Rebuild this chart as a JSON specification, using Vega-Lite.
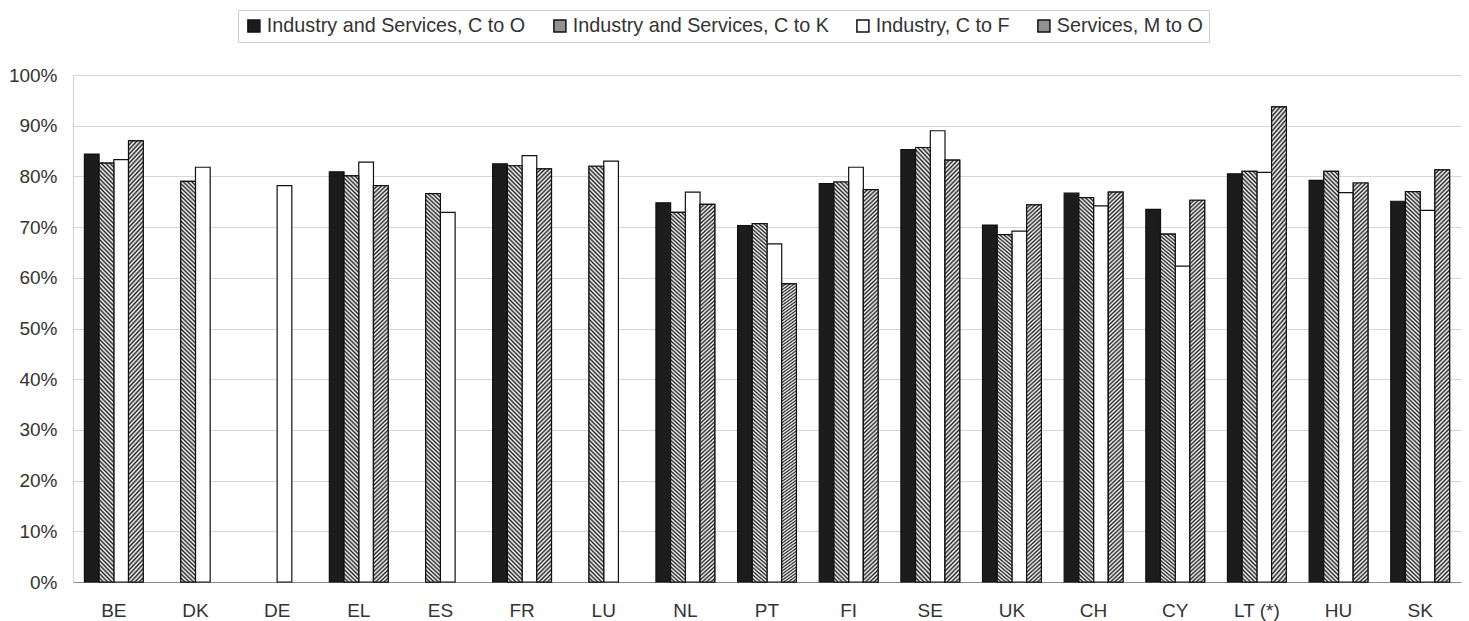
{
  "$schema": "https://vega.github.io/schema/vega-lite/v6.json",
  "width": 1388,
  "height": 507,
  "autosize": {"type": "none"},
  "padding": {"left": 73, "top": 75, "right": 8, "bottom": 39},
  "background": "white",
  "params": [
    {"name": "legendStops", "value": [
      {"offset": 0, "color": "#fff"}, {"offset": 0.1, "color": "#222"}, {"offset": 0.2, "color": "#fff"}, {"offset": 0.3, "color": "#222"}, {"offset": 0.4, "color": "#fff"}, {"offset": 0.5, "color": "#222"}, {"offset": 0.6, "color": "#fff"}, {"offset": 0.7, "color": "#222"}, {"offset": 0.8, "color": "#fff"}, {"offset": 0.9, "color": "#222"}, {"offset": 1, "color": "#fff"}
    ]},
    {"name": "hatchStops", "value": [
      {"offset":0,"color":"#222"},{"offset":0.005,"color":"#fff"},{"offset":0.01,"color":"#222"},{"offset":0.015,"color":"#fff"},{"offset":0.02,"color":"#222"},{"offset":0.025,"color":"#fff"},{"offset":0.03,"color":"#222"},{"offset":0.035,"color":"#fff"},{"offset":0.04,"color":"#222"},{"offset":0.045,"color":"#fff"},
      {"offset":0.05,"color":"#222"},{"offset":0.055,"color":"#fff"},{"offset":0.06,"color":"#222"},{"offset":0.065,"color":"#fff"},{"offset":0.07,"color":"#222"},{"offset":0.075,"color":"#fff"},{"offset":0.08,"color":"#222"},{"offset":0.085,"color":"#fff"},{"offset":0.09,"color":"#222"},{"offset":0.095,"color":"#fff"},
      {"offset":0.1,"color":"#222"},{"offset":0.105,"color":"#fff"},{"offset":0.11,"color":"#222"},{"offset":0.115,"color":"#fff"},{"offset":0.12,"color":"#222"},{"offset":0.125,"color":"#fff"},{"offset":0.13,"color":"#222"},{"offset":0.135,"color":"#fff"},{"offset":0.14,"color":"#222"},{"offset":0.145,"color":"#fff"},
      {"offset":0.15,"color":"#222"},{"offset":0.155,"color":"#fff"},{"offset":0.16,"color":"#222"},{"offset":0.165,"color":"#fff"},{"offset":0.17,"color":"#222"},{"offset":0.175,"color":"#fff"},{"offset":0.18,"color":"#222"},{"offset":0.185,"color":"#fff"},{"offset":0.19,"color":"#222"},{"offset":0.195,"color":"#fff"},
      {"offset":0.2,"color":"#222"},{"offset":0.205,"color":"#fff"},{"offset":0.21,"color":"#222"},{"offset":0.215,"color":"#fff"},{"offset":0.22,"color":"#222"},{"offset":0.225,"color":"#fff"},{"offset":0.23,"color":"#222"},{"offset":0.235,"color":"#fff"},{"offset":0.24,"color":"#222"},{"offset":0.245,"color":"#fff"},
      {"offset":0.25,"color":"#222"},{"offset":0.255,"color":"#fff"},{"offset":0.26,"color":"#222"},{"offset":0.265,"color":"#fff"},{"offset":0.27,"color":"#222"},{"offset":0.275,"color":"#fff"},{"offset":0.28,"color":"#222"},{"offset":0.285,"color":"#fff"},{"offset":0.29,"color":"#222"},{"offset":0.295,"color":"#fff"},
      {"offset":0.3,"color":"#222"},{"offset":0.305,"color":"#fff"},{"offset":0.31,"color":"#222"},{"offset":0.315,"color":"#fff"},{"offset":0.32,"color":"#222"},{"offset":0.325,"color":"#fff"},{"offset":0.33,"color":"#222"},{"offset":0.335,"color":"#fff"},{"offset":0.34,"color":"#222"},{"offset":0.345,"color":"#fff"},
      {"offset":0.35,"color":"#222"},{"offset":0.355,"color":"#fff"},{"offset":0.36,"color":"#222"},{"offset":0.365,"color":"#fff"},{"offset":0.37,"color":"#222"},{"offset":0.375,"color":"#fff"},{"offset":0.38,"color":"#222"},{"offset":0.385,"color":"#fff"},{"offset":0.39,"color":"#222"},{"offset":0.395,"color":"#fff"},
      {"offset":0.4,"color":"#222"},{"offset":0.405,"color":"#fff"},{"offset":0.41,"color":"#222"},{"offset":0.415,"color":"#fff"},{"offset":0.42,"color":"#222"},{"offset":0.425,"color":"#fff"},{"offset":0.43,"color":"#222"},{"offset":0.435,"color":"#fff"},{"offset":0.44,"color":"#222"},{"offset":0.445,"color":"#fff"},
      {"offset":0.45,"color":"#222"},{"offset":0.455,"color":"#fff"},{"offset":0.46,"color":"#222"},{"offset":0.465,"color":"#fff"},{"offset":0.47,"color":"#222"},{"offset":0.475,"color":"#fff"},{"offset":0.48,"color":"#222"},{"offset":0.485,"color":"#fff"},{"offset":0.49,"color":"#222"},{"offset":0.495,"color":"#fff"},
      {"offset":0.5,"color":"#222"},{"offset":0.505,"color":"#fff"},{"offset":0.51,"color":"#222"},{"offset":0.515,"color":"#fff"},{"offset":0.52,"color":"#222"},{"offset":0.525,"color":"#fff"},{"offset":0.53,"color":"#222"},{"offset":0.535,"color":"#fff"},{"offset":0.54,"color":"#222"},{"offset":0.545,"color":"#fff"},
      {"offset":0.55,"color":"#222"},{"offset":0.555,"color":"#fff"},{"offset":0.56,"color":"#222"},{"offset":0.565,"color":"#fff"},{"offset":0.57,"color":"#222"},{"offset":0.575,"color":"#fff"},{"offset":0.58,"color":"#222"},{"offset":0.585,"color":"#fff"},{"offset":0.59,"color":"#222"},{"offset":0.595,"color":"#fff"},
      {"offset":0.6,"color":"#222"},{"offset":0.605,"color":"#fff"},{"offset":0.61,"color":"#222"},{"offset":0.615,"color":"#fff"},{"offset":0.62,"color":"#222"},{"offset":0.625,"color":"#fff"},{"offset":0.63,"color":"#222"},{"offset":0.635,"color":"#fff"},{"offset":0.64,"color":"#222"},{"offset":0.645,"color":"#fff"},
      {"offset":0.65,"color":"#222"},{"offset":0.655,"color":"#fff"},{"offset":0.66,"color":"#222"},{"offset":0.665,"color":"#fff"},{"offset":0.67,"color":"#222"},{"offset":0.675,"color":"#fff"},{"offset":0.68,"color":"#222"},{"offset":0.685,"color":"#fff"},{"offset":0.69,"color":"#222"},{"offset":0.695,"color":"#fff"},
      {"offset":0.7,"color":"#222"},{"offset":0.705,"color":"#fff"},{"offset":0.71,"color":"#222"},{"offset":0.715,"color":"#fff"},{"offset":0.72,"color":"#222"},{"offset":0.725,"color":"#fff"},{"offset":0.73,"color":"#222"},{"offset":0.735,"color":"#fff"},{"offset":0.74,"color":"#222"},{"offset":0.745,"color":"#fff"},
      {"offset":0.75,"color":"#222"},{"offset":0.755,"color":"#fff"},{"offset":0.76,"color":"#222"},{"offset":0.765,"color":"#fff"},{"offset":0.77,"color":"#222"},{"offset":0.775,"color":"#fff"},{"offset":0.78,"color":"#222"},{"offset":0.785,"color":"#fff"},{"offset":0.79,"color":"#222"},{"offset":0.795,"color":"#fff"},
      {"offset":0.8,"color":"#222"},{"offset":0.805,"color":"#fff"},{"offset":0.81,"color":"#222"},{"offset":0.815,"color":"#fff"},{"offset":0.82,"color":"#222"},{"offset":0.825,"color":"#fff"},{"offset":0.83,"color":"#222"},{"offset":0.835,"color":"#fff"},{"offset":0.84,"color":"#222"},{"offset":0.845,"color":"#fff"},
      {"offset":0.85,"color":"#222"},{"offset":0.855,"color":"#fff"},{"offset":0.86,"color":"#222"},{"offset":0.865,"color":"#fff"},{"offset":0.87,"color":"#222"},{"offset":0.875,"color":"#fff"},{"offset":0.88,"color":"#222"},{"offset":0.885,"color":"#fff"},{"offset":0.89,"color":"#222"},{"offset":0.895,"color":"#fff"},
      {"offset":0.9,"color":"#222"},{"offset":0.905,"color":"#fff"},{"offset":0.91,"color":"#222"},{"offset":0.915,"color":"#fff"},{"offset":0.92,"color":"#222"},{"offset":0.925,"color":"#fff"},{"offset":0.93,"color":"#222"},{"offset":0.935,"color":"#fff"},{"offset":0.94,"color":"#222"},{"offset":0.945,"color":"#fff"},
      {"offset":0.95,"color":"#222"},{"offset":0.955,"color":"#fff"},{"offset":0.96,"color":"#222"},{"offset":0.965,"color":"#fff"},{"offset":0.97,"color":"#222"},{"offset":0.975,"color":"#fff"},{"offset":0.98,"color":"#222"},{"offset":0.985,"color":"#fff"},{"offset":0.99,"color":"#222"},{"offset":0.995,"color":"#fff"},
      {"offset":1,"color":"#222"}
    ]}
  ],
  "data": {
    "values": [
      {"c": "BE", "s": "Industry and Services, C to O", "v": 84.4},
      {"c": "BE", "s": "Industry and Services, C to K", "v": 82.6},
      {"c": "BE", "s": "Industry, C to F", "v": 83.3},
      {"c": "BE", "s": "Services, M to O", "v": 87.0},
      {"c": "DK", "s": "Industry and Services, C to K", "v": 79.0},
      {"c": "DK", "s": "Industry, C to F", "v": 81.8},
      {"c": "DE", "s": "Industry, C to F", "v": 78.2},
      {"c": "EL", "s": "Industry and Services, C to O", "v": 80.9},
      {"c": "EL", "s": "Industry and Services, C to K", "v": 80.1},
      {"c": "EL", "s": "Industry, C to F", "v": 82.8},
      {"c": "EL", "s": "Services, M to O", "v": 78.2},
      {"c": "ES", "s": "Industry and Services, C to K", "v": 76.6},
      {"c": "ES", "s": "Industry, C to F", "v": 72.9},
      {"c": "FR", "s": "Industry and Services, C to O", "v": 82.5},
      {"c": "FR", "s": "Industry and Services, C to K", "v": 82.1},
      {"c": "FR", "s": "Industry, C to F", "v": 84.1},
      {"c": "FR", "s": "Services, M to O", "v": 81.5},
      {"c": "LU", "s": "Industry and Services, C to K", "v": 82.0},
      {"c": "LU", "s": "Industry, C to F", "v": 83.0},
      {"c": "NL", "s": "Industry and Services, C to O", "v": 74.8},
      {"c": "NL", "s": "Industry and Services, C to K", "v": 72.9},
      {"c": "NL", "s": "Industry, C to F", "v": 76.9},
      {"c": "NL", "s": "Services, M to O", "v": 74.5},
      {"c": "PT", "s": "Industry and Services, C to O", "v": 70.3},
      {"c": "PT", "s": "Industry and Services, C to K", "v": 70.7},
      {"c": "PT", "s": "Industry, C to F", "v": 66.7},
      {"c": "PT", "s": "Services, M to O", "v": 58.8},
      {"c": "FI", "s": "Industry and Services, C to O", "v": 78.6},
      {"c": "FI", "s": "Industry and Services, C to K", "v": 78.9},
      {"c": "FI", "s": "Industry, C to F", "v": 81.8},
      {"c": "FI", "s": "Services, M to O", "v": 77.4},
      {"c": "SE", "s": "Industry and Services, C to O", "v": 85.3},
      {"c": "SE", "s": "Industry and Services, C to K", "v": 85.7},
      {"c": "SE", "s": "Industry, C to F", "v": 89.0},
      {"c": "SE", "s": "Services, M to O", "v": 83.2},
      {"c": "UK", "s": "Industry and Services, C to O", "v": 70.4},
      {"c": "UK", "s": "Industry and Services, C to K", "v": 68.5},
      {"c": "UK", "s": "Industry, C to F", "v": 69.2},
      {"c": "UK", "s": "Services, M to O", "v": 74.4},
      {"c": "CH", "s": "Industry and Services, C to O", "v": 76.7},
      {"c": "CH", "s": "Industry and Services, C to K", "v": 75.8},
      {"c": "CH", "s": "Industry, C to F", "v": 74.2},
      {"c": "CH", "s": "Services, M to O", "v": 76.9},
      {"c": "CY", "s": "Industry and Services, C to O", "v": 73.5},
      {"c": "CY", "s": "Industry and Services, C to K", "v": 68.6},
      {"c": "CY", "s": "Industry, C to F", "v": 62.3},
      {"c": "CY", "s": "Services, M to O", "v": 75.3},
      {"c": "LT (*)", "s": "Industry and Services, C to O", "v": 80.5},
      {"c": "LT (*)", "s": "Industry and Services, C to K", "v": 81.0},
      {"c": "LT (*)", "s": "Industry, C to F", "v": 80.8},
      {"c": "LT (*)", "s": "Services, M to O", "v": 93.7},
      {"c": "HU", "s": "Industry and Services, C to O", "v": 79.2},
      {"c": "HU", "s": "Industry and Services, C to K", "v": 81.0},
      {"c": "HU", "s": "Industry, C to F", "v": 76.8},
      {"c": "HU", "s": "Services, M to O", "v": 78.7},
      {"c": "SK", "s": "Industry and Services, C to O", "v": 75.1},
      {"c": "SK", "s": "Industry and Services, C to K", "v": 77.0},
      {"c": "SK", "s": "Industry, C to F", "v": 73.3},
      {"c": "SK", "s": "Services, M to O", "v": 81.3}
    ]
  },
  "encoding": {
    "x": {
      "field": "c", "type": "nominal",
      "scale": {"domain": ["BE", "DK", "DE", "EL", "ES", "FR", "LU", "NL", "PT", "FI", "SE", "UK", "CH", "CY", "LT (*)", "HU", "SK"], "paddingInner": 0, "paddingOuter": 0},
      "axis": {"title": null, "labelAngle": 0, "ticks": false, "labelPadding": 19, "domainColor": "#8a8a8a", "domainWidth": 1}
    },
    "xOffset": {
      "field": "s", "type": "nominal",
      "scale": {"domain": ["Industry and Services, C to O", "Industry and Services, C to K", "Industry, C to F", "Services, M to O"], "paddingInner": 0, "paddingOuter": 0.775}
    },
    "y": {
      "field": "v", "type": "quantitative",
      "scale": {"domain": [0, 100], "nice": false},
      "axis": {"title": null, "values": [0, 10, 20, 30, 40, 50, 60, 70, 80, 90, 100], "labelExpr": "datum.value + '%'", "ticks": false, "labelPadding": 16, "grid": true, "gridColor": "#d6d6d6", "domainColor": "#d0d0d0"}
    }
  },
  "layer": [
    {
      "mark": {"type": "bar", "stroke": "#111", "strokeWidth": 1.2},
      "encoding": {
        "fill": {
          "field": "s", "type": "nominal",
          "scale": {"domain": ["Industry and Services, C to O", "Industry and Services, C to K", "Industry, C to F", "Services, M to O"], "range": ["#1c1c1c", "#909090", "#ffffff", "#909090"]},
          "legend": {
            "title": null,
            "orient": "none",
            "legendX": 165,
            "legendY": -65,
            "direction": "horizontal",
            "symbolType": "square",
            "symbolSize": 144,
            "labelFontSize": 19.8,
            "labelColor": "#333",
            "labelLimit": 0,
            "labelOffset": 3,
            "columnPadding": 24,
            "padding": 6,
            "strokeColor": "#cfcfcf",
            "encode": {
              "symbols": {
                "fill": {"value": {"expr": "datum.value === 'Industry and Services, C to K' ? {gradient: 'linear', x1: 0, y1: 1, x2: 1, y2: 0, stops: legendStops} : datum.value === 'Services, M to O' ? {gradient: 'linear', x1: 0, y1: 0, x2: 1, y2: 1, stops: legendStops} : scale('fill', datum.value)"}},
                "stroke": {"value": "#111"},
                "strokeWidth": {"value": 1}
              }
            }
          }
        }
      }
    },
    {
      "transform": [{"filter": "datum.s === 'Industry and Services, C to K'"}],
      "mark": {"type": "bar", "stroke": "#111", "strokeWidth": 1.2, "fill": {"expr": "{gradient: 'linear', x1: 0, y1: 1, x2: 0.037, y2: -0.035, stops: hatchStops}"}}
    },
    {
      "transform": [{"filter": "datum.s === 'Services, M to O'"}],
      "mark": {"type": "bar", "stroke": "#111", "strokeWidth": 1.2, "fill": {"expr": "{gradient: 'linear', x1: 0, y1: 0, x2: 0.037, y2: 1.035, stops: hatchStops}"}}
    }
  ],
  "config": {
    "font": "Liberation Sans",
    "view": {"stroke": null},
    "axis": {"labelFontSize": 19, "labelColor": "#333", "labelFont": "Liberation Sans"},
    "legend": {"labelFont": "Liberation Sans"}
  }
}
